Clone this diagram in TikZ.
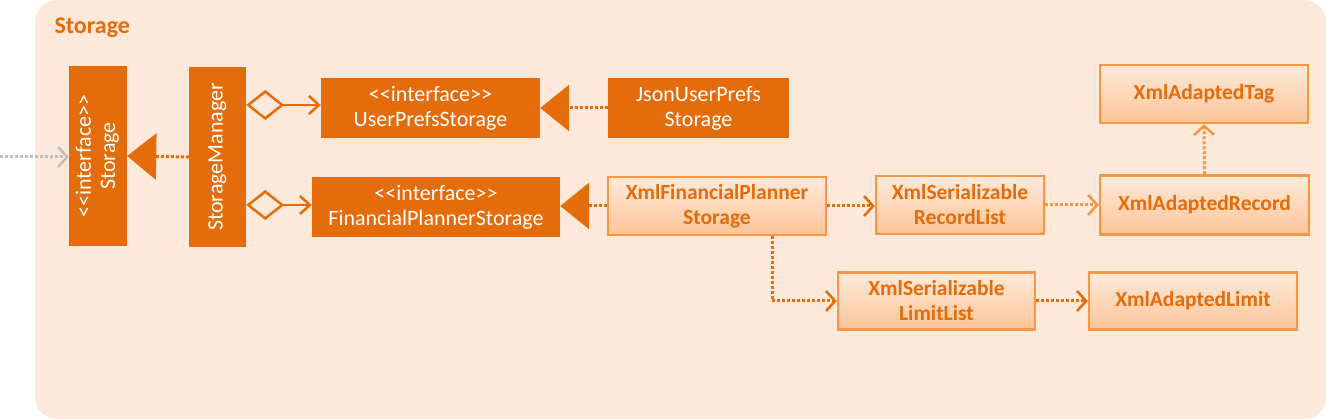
\documentclass[tikz,border=0pt]{standalone}
\usepackage{fontspec}
\setmainfont{Carlito}
\usetikzlibrary{arrows.meta}
\definecolor{dorange}{RGB}{228,108,10}
\definecolor{lorange}{RGB}{247,150,70}
\definecolor{bgpeach}{RGB}{253,233,217}
\definecolor{gtop}{RGB}{253,234,218}
\definecolor{gbot}{RGB}{251,196,150}
\definecolor{extgray}{RGB}{191,191,191}
\newcommand{\ifc}{<\kern0pt<interface>\kern0pt>}
\begin{document}
\begin{tikzpicture}[x=1pt,y=-1pt,
  darkbox/.style={fill=dorange, draw=none, text=white, align=center, inner sep=0pt,
    font=\fontsize{22}{25}\selectfont},
  lightbox/.style={draw=lorange, line width=2.5pt, top color=gtop, bottom color=gbot,
    text=dorange, align=center, inner sep=0pt, font=\fontsize{21.5}{25}\selectfont\bfseries},
  realize/.style={draw=dorange, line width=3pt, dash pattern=on 3pt off 2pt,
    -{Triangle[length=29pt,width=46pt]}, fill=dorange},
  depend/.style={draw=#1, line width=3pt, dash pattern=on 3pt off 2pt,
    -{Straight Barb[length=9pt,width=20pt,line width=2.5pt]}},
  aggr/.style={draw=dorange, line width=2.5pt,
    {Diamond[open,length=38pt,width=30pt,fill=bgpeach]}-{Straight Barb[length=10pt,width=18pt]}},
]
\useasboundingbox (0,0) rectangle (1326,419);
\fill[bgpeach, rounded corners=22pt] (35,0) rectangle (1326,419);
\node[anchor=west, text=dorange, font=\fontsize{24}{28}\selectfont\bfseries] (title) at (51,28) {Storage};

\node[darkbox, minimum width=58pt, minimum height=180pt] (stor) at (98,156)
  {\rotatebox{90}{\begin{tabular}{@{}c@{}}\ifc\\[-1pt]Storage\end{tabular}}};
\node[darkbox, minimum width=57pt, minimum height=180pt] (sm) at (217.5,157)
  {\rotatebox{90}{StorageManager}};
\node[darkbox, minimum width=219pt, minimum height=60pt] (ups) at (430.5,108)
  {\ifc\\UserPrefsStorage};
\node[darkbox, minimum width=181pt, minimum height=60pt] (jups) at (698.5,108)
  {JsonUserPrefs\\Storage};
\node[darkbox, minimum width=248pt, minimum height=60pt] (fps) at (436,207)
  {\ifc\\FinancialPlannerStorage};
\node[lightbox, minimum width=218pt, minimum height=58pt] (xfps) at (717,206)
  {XmlFinancialPlanner\\Storage};
\node[lightbox, minimum width=168pt, minimum height=58pt] (xsrl) at (960,205)
  {XmlSerializable\\RecordList};
\node[lightbox, minimum width=209pt, minimum height=59pt] (xar) at (1204.5,205)
  {XmlAdaptedRecord};
\node[lightbox, minimum width=208pt, minimum height=58pt] (xat) at (1204,94)
  {XmlAdaptedTag};
\node[lightbox, minimum width=197pt, minimum height=57pt] (xsll) at (936.5,301)
  {XmlSerializable\\LimitList};
\node[lightbox, minimum width=208pt, minimum height=57pt] (xal) at (1193,301)
  {XmlAdaptedLimit};

\coordinate (ext) at (0,157);
\draw[draw=extgray, line width=3pt, dash pattern=on 3pt off 2pt,
  -{Straight Barb[length=9pt,width=20pt,line width=2.5pt]}] (ext) -- (stor.west |- ext);
\draw[realize] (sm.west) -- (stor.east);
\draw[aggr] (sm.east |- 0,105) -- (ups.west |- 0,105);
\draw[aggr] (sm.east |- 0,205) -- (fps.west |- 0,205);
\draw[realize] (jups.west) -- (ups.east);
\draw[realize] (xfps.west) -- (fps.east |- xfps.west);
\draw[depend=dorange] (xfps.east) -- (xsrl.west |- xfps.east);
\draw[depend=lorange] (xsrl.east) -- (xar.west |- xsrl.east);
\draw[depend=lorange] (xar.north) -- (xat.south);
\draw[depend=dorange] ([xshift=55pt]xfps.south) |- (xsll.west);
\draw[depend=dorange] (xsll.east) -- (xal.west);
\end{tikzpicture}
\end{document}
